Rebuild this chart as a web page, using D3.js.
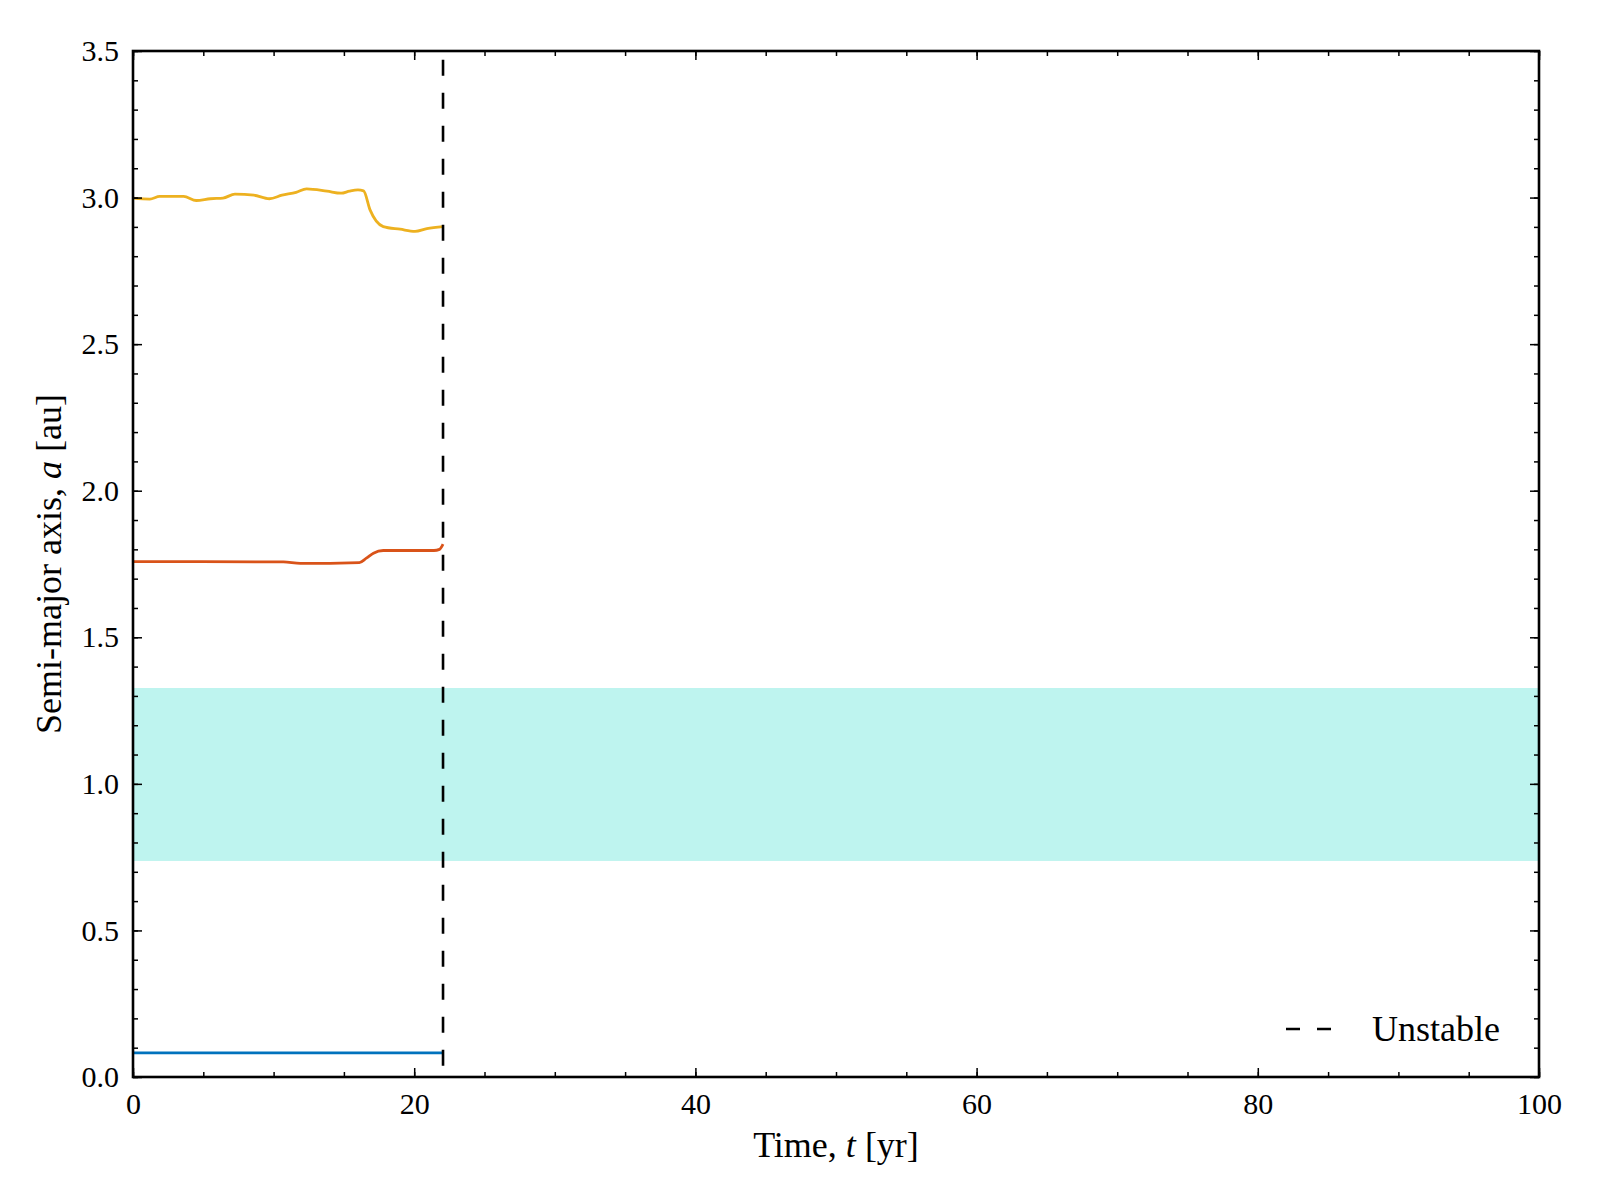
<!DOCTYPE html>
<html>
<head>
<meta charset="utf-8">
<script src="https://cdn.jsdelivr.net/npm/d3@7"></script>
<style>
  html, body { margin: 0; padding: 0; background: #fff; }
  text { font-family: "Liberation Serif", "DejaVu Serif", serif; fill: #000; }
</style>
</head>
<body>
<svg id="chart" width="1600" height="1200"></svg>
<script>
// ---- data ----
const planetNames = ["b", "c", "d"];
const bTimes = [0, 22.05];
const bValues = [0.082, 0.082];
const cTimes = [0, 4.8, 10.7, 11.9, 16.1, 16.6, 17.1, 17.8, 21.4, 21.8, 22.05];
const cValues = [1.758, 1.758, 1.757, 1.752, 1.755, 1.770, 1.787, 1.796, 1.796, 1.800, 1.818];
const dTimes = [0, 1.2, 1.9, 3.6, 4.5, 5.5, 6.4, 7.25, 8.6, 9.7, 10.6, 11.6, 12.35, 13.8, 14.8, 15.4, 16.0, 16.4, 16.86, 17.8, 19.0, 20.06, 20.9, 22.05];
const dValues = [2.998, 2.995, 3.004, 3.004, 2.990, 2.996, 2.998, 3.012, 3.008, 2.996, 3.008, 3.018, 3.030, 3.022, 3.015, 3.022, 3.026, 3.023, 2.958, 2.901, 2.892, 2.885, 2.894, 2.901];
const seriesColors = ["#0072bd", "#d95319", "#edb120"];
const habitableZone = [0.737, 1.327];
const unstableTime = 22.05;
const legendLabel = "Unstable";
const xTicks = [0, 20, 40, 60, 80, 100];
const yTicks = [0.0, 0.5, 1.0, 1.5, 2.0, 2.5, 3.0, 3.5];
const xLabel = "Time, ";
const yLabel = "Semi-major axis, ";

// ---- layout ----
const L = 133, R = 1539, T = 51, B = 1077;
const svg = d3.select("#chart");
const x = d3.scaleLinear().domain([0, 100]).range([L, R]);
const y = d3.scaleLinear().domain([0, 3.5]).range([B, T]);

// habitable zone band
svg.append("rect")
  .attr("x", x(0)).attr("width", x(100) - x(0))
  .attr("y", y(habitableZone[1])).attr("height", y(habitableZone[0]) - y(habitableZone[1]))
  .attr("fill", "#40E0D0").attr("fill-opacity", 0.34);

// data lines
const series = [
  {t: bTimes, v: bValues},
  {t: cTimes, v: cValues},
  {t: dTimes, v: dValues}
];
const line = d3.line().x(d => x(d[0])).y(d => y(d[1])).curve(d3.curveMonotoneX);
series.forEach((s, i) => {
  const pts = s.t.map((t, j) => [t, s.v[j]]);
  svg.append("path").datum(pts)
    .attr("d", line)
    .attr("fill", "none")
    .attr("stroke", seriesColors[i])
    .attr("stroke-width", 2.8)
    .attr("stroke-linejoin", "round");
});

// unstable vertical dashed line
svg.append("line")
  .attr("x1", x(unstableTime)).attr("x2", x(unstableTime))
  .attr("y1", y(3.47)).attr("y2", y(0))
  .attr("stroke", "#000").attr("stroke-width", 2.6)
  .attr("stroke-dasharray", "16,17");

// axes (ticks inward, mirrored)
const fontSize = 30;
function styleAxis(g) {
  g.select(".domain").remove();
  g.selectAll("line").attr("stroke", "#000").attr("stroke-width", 1.5);
  g.selectAll("text").style("font-size", fontSize + "px")
    .style("font-family", '"Liberation Serif", "DejaVu Serif", serif');
}
const xMinor = d3.range(0, 100.01, 5);
const yMinor = d3.range(0, 3.501, 0.1);

// bottom
const gxB = svg.append("g").attr("transform", `translate(0,${B})`)
  .call(d3.axisBottom(x).tickValues(xTicks).tickFormat(d3.format("d")).tickSizeInner(-9).tickPadding(16));
styleAxis(gxB);
svg.append("g").attr("transform", `translate(0,${B})`)
  .call(d3.axisBottom(x).tickValues(xMinor).tickFormat("").tickSizeInner(-5).tickSizeOuter(0))
  .call(styleAxis);
// top
svg.append("g").attr("transform", `translate(0,${T})`)
  .call(d3.axisTop(x).tickValues(xTicks).tickFormat("").tickSizeInner(-9).tickSizeOuter(0)).call(styleAxis);
svg.append("g").attr("transform", `translate(0,${T})`)
  .call(d3.axisTop(x).tickValues(xMinor).tickFormat("").tickSizeInner(-5).tickSizeOuter(0)).call(styleAxis);
// left
const gyL = svg.append("g").attr("transform", `translate(${L},0)`)
  .call(d3.axisLeft(y).tickValues(yTicks).tickFormat(d3.format(".1f")).tickSizeInner(-9).tickPadding(14));
styleAxis(gyL);
svg.append("g").attr("transform", `translate(${L},0)`)
  .call(d3.axisLeft(y).tickValues(yMinor).tickFormat("").tickSizeInner(-5).tickSizeOuter(0)).call(styleAxis);
// right
svg.append("g").attr("transform", `translate(${R},0)`)
  .call(d3.axisRight(y).tickValues(yTicks).tickFormat("").tickSizeInner(-9).tickSizeOuter(0)).call(styleAxis);
svg.append("g").attr("transform", `translate(${R},0)`)
  .call(d3.axisRight(y).tickValues(yMinor).tickFormat("").tickSizeInner(-5).tickSizeOuter(0)).call(styleAxis);

// frame
svg.append("rect").attr("x", L).attr("y", T).attr("width", R - L).attr("height", B - T)
  .attr("fill", "none").attr("stroke", "#000").attr("stroke-width", 2.6);

// axis labels
const labelSize = "36px";
const xl = svg.append("text").attr("x", (L + R) / 2).attr("y", 1157)
  .attr("text-anchor", "middle").style("font-size", labelSize);
xl.append("tspan").text(xLabel);
xl.append("tspan").style("font-style", "italic").text("t");
xl.append("tspan").text(" [yr]");

const yl = svg.append("text")
  .attr("transform", `translate(61,${(T + B) / 2}) rotate(-90)`)
  .attr("text-anchor", "middle").style("font-size", labelSize);
yl.append("tspan").text(yLabel);
yl.append("tspan").style("font-style", "italic").text("a");
yl.append("tspan").text(" [au]");

// legend
svg.append("line").attr("x1", 1286).attr("x2", 1333).attr("y1", 1029).attr("y2", 1029)
  .attr("stroke", "#000").attr("stroke-width", 2.6).attr("stroke-dasharray", "14,17");
svg.append("text").attr("x", 1372).attr("y", 1041).style("font-size", labelSize).text(legendLabel);
</script>
</body>
</html>
